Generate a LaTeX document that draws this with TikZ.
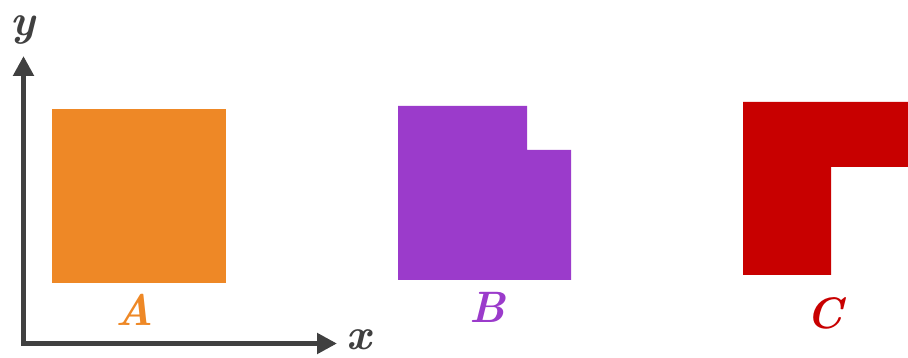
\documentclass[tikz,border=0pt]{standalone}
\usepackage{tikz}
\usetikzlibrary{arrows.meta}

\definecolor{axisgray}{HTML}{404040}
\definecolor{shapeA}{HTML}{EE8826}
\definecolor{shapeB}{HTML}{9B3BCB}
\definecolor{shapeC}{HTML}{C80000}

\tikzset{
  axis/.style={line width=5pt, color=axisgray, line join=miter,
    {Triangle[length=20pt,width=20pt]}-{Triangle[length=20pt,width=20pt]}},
  lbl/.style={font=\fontsize{44}{48}\selectfont\bfseries\itshape, inner sep=0pt}
}

\begin{document}
\begin{tikzpicture}[x=1pt,y=-1pt]
\useasboundingbox (0,0) rectangle (908,358);
% axes
\coordinate (o) at (23.5,343.5);
\coordinate (ytip) at (23.5,56);
\coordinate (xtip) at (337,343.5);
\draw[axis] (ytip) -- (o) -- (xtip);
\node[lbl, text=axisgray] (ylab) at (23,30) {y};
\node[lbl, text=axisgray] (xlab) at (359,340) {x};
% shapes
\fill[shapeA] (52,109) rectangle (226,283);
\fill[shapeB] (398,106) -- (527,106) -- (527,150) -- (571,150) -- (571,280) -- (398,280) -- cycle;
\fill[shapeC] (743,102) -- (908,102) -- (908,167) -- (831,167) -- (831,275) -- (743,275) -- cycle;
% labels
\node[lbl, text=shapeA] (labA) at (135,310) {A};
\node[lbl, text=shapeB] (labB) at (487,307) {B};
\node[lbl, text=shapeC] (labC) at (825,313) {C};
\end{tikzpicture}
\end{document}
